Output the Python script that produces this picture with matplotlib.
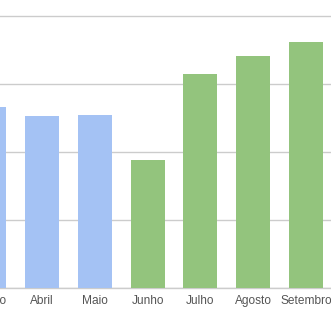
import matplotlib
matplotlib.use("Agg")
import matplotlib.pyplot as plt
import matplotlib.transforms as mtransforms

# Monthly values (gridlines every 5 units)
months = ["Março", "Abril", "Maio", "Junho", "Julho", "Agosto", "Setembro"]
values = [13.3, 12.65, 12.7, 9.4, 15.75, 17.05, 18.1]
colors = ["#a4c2f4", "#a4c2f4", "#a4c2f4", "#93c47d", "#93c47d", "#93c47d", "#93c47d"]
grid_ticks = [0, 5, 10, 15, 20]

plt.rcParams["font.family"] = ["Liberation Sans", "DejaVu Sans"]

fig = plt.figure(figsize=(3.31, 3.24), dpi=100)
ax = fig.add_axes([0, 36 / 324, 1, 288 / 324])

x = list(range(len(months)))
ax.bar(x, values, width=0.644, color=colors, zorder=3)

ax.set_xticks(x)
ax.set_xticklabels(months, fontsize=8.6, color="#555555")
ax.tick_params(axis="x", length=0, pad=5)

ax.set_yticks(grid_ticks)
ax.yaxis.grid(True, color="#cccccc", linewidth=1, zorder=0)
ax.tick_params(axis="y", left=False, labelleft=False)

# limits after ticks, so set_xticks doesn't widen the view
ax.set_xlim(0.2045, 0.2045 + 331 / 52.8)
ax.set_ylim(0, 21.18)

# first label sits outside the view, matplotlib skips it -> draw it by hand
trans = mtransforms.blended_transform_factory(ax.transData, ax.transAxes)
ax.text(x[0], 0, months[0], transform=trans, fontsize=8.6, color="#555555",
        ha="center", va="top", clip_on=False,
        bbox=None).set_y(-7 / 288)

for side in ["top", "right", "left"]:
    ax.spines[side].set_visible(False)
ax.spines["bottom"].set_color("#cccccc")
ax.spines["bottom"].set_linewidth(1)

fig.savefig("out.png", dpi=100)
plt.close(fig)
